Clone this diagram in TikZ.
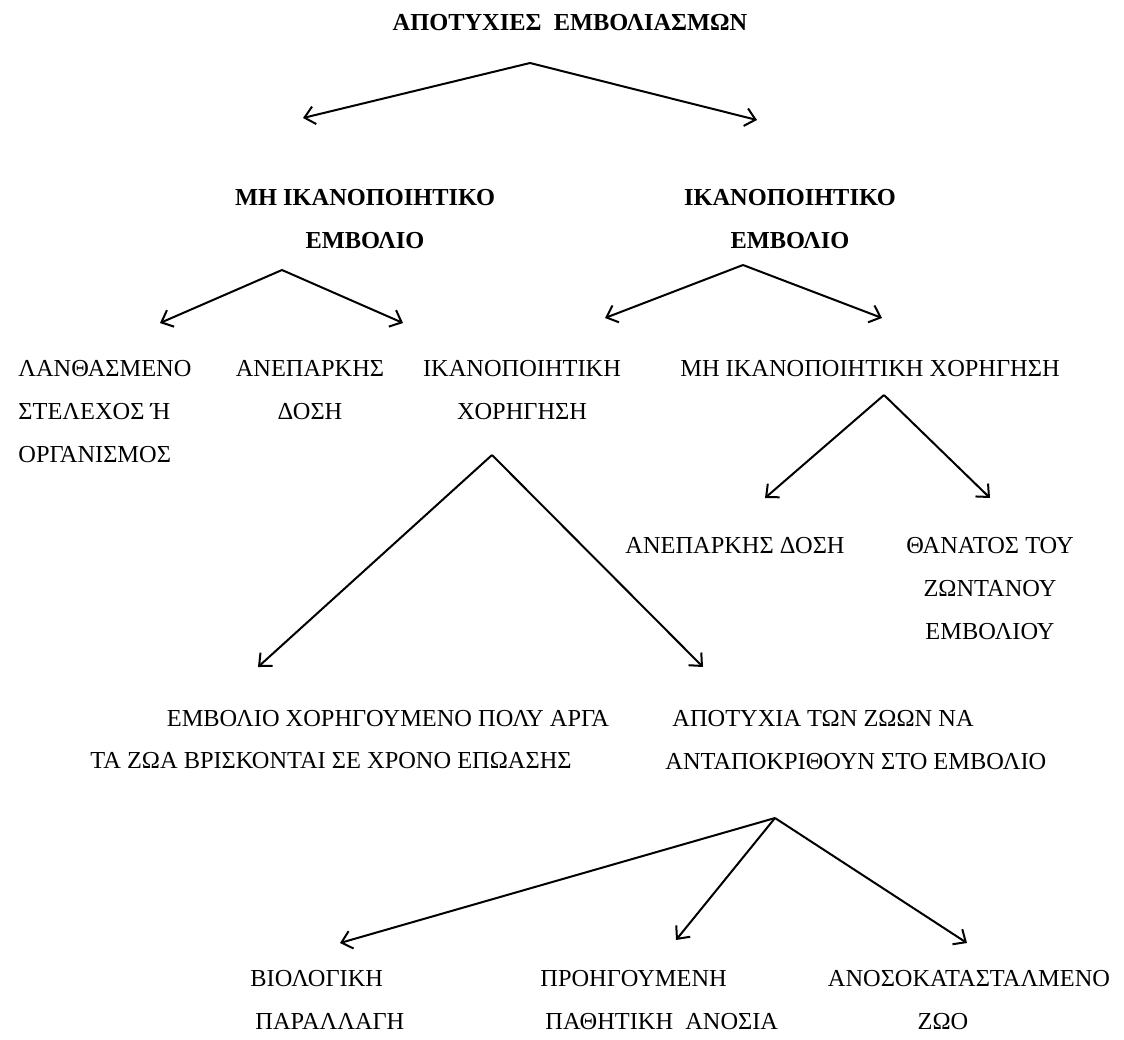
\documentclass[tikz,border=0pt]{standalone}
\usepackage{fontspec}
\setmainfont{Liberation Serif}
\usetikzlibrary{arrows.meta}
\begin{document}
\begin{tikzpicture}[x=0.5pt,y=-0.5pt,
    lbl/.style={inner sep=0pt,anchor=north,align=center,font=\fontsize{12.2}{21.5}\selectfont},
    hdr/.style={lbl,font=\fontsize{12.2}{21.5}\selectfont\bfseries},
    arr/.style={line width=1pt,-{Straight Barb[length=5pt,width=9pt]}}]
\useasboundingbox (0,0) rectangle (1124,1039);
% headings
\node[hdr] (fail) at (570,14) {ΑΠΟΤΥΧΙΕΣ\ \ ΕΜΒΟΛΙΑΣΜΩΝ};
\node[hdr] (badvac) at (365,189) {ΜΗ ΙΚΑΝΟΠΟΙΗΤΙΚΟ\\ΕΜΒΟΛΙΟ};
\node[hdr] (goodvac) at (790,189) {ΙΚΑΝΟΠΟΙΗΤΙΚΟ\\ΕΜΒΟΛΙΟ};
% causes
\node[lbl,anchor=north west,align=left] (strain) at (18,360) {ΛΑΝΘΑΣΜΕΝΟ\\ΣΤΕΛΕΧΟΣ Ή\\ΟΡΓΑΝΙΣΜΟΣ};
\node[lbl] (lowdose) at (310,360) {ΑΝΕΠΑΡΚΗΣ\\ΔΟΣΗ};
\node[lbl] (goodadm) at (522,360) {ΙΚΑΝΟΠΟΙΗΤΙΚΗ\\ΧΟΡΗΓΗΣΗ};
\node[lbl] (badadm) at (870,360) {ΜΗ ΙΚΑΝΟΠΟΙΗΤΙΚΗ ΧΟΡΗΓΗΣΗ};
\node[lbl] (lowdosetwo) at (735,537) {ΑΝΕΠΑΡΚΗΣ ΔΟΣΗ};
\node[lbl] (death) at (990,537) {ΘΑΝΑΤΟΣ ΤΟΥ\\ΖΩΝΤΑΝΟΥ\\ΕΜΒΟΛΙΟΥ};
\node[lbl] (late) at (388,710) {ΕΜΒΟΛΙΟ ΧΟΡΗΓΟΥΜΕΝΟ ΠΟΛΥ ΑΡΓΑ};
\node[lbl] (incub) at (331,752) {ΤΑ ΖΩΑ ΒΡΙΣΚΟΝΤΑΙ ΣΕ ΧΡΟΝΟ ΕΠΩΑΣΗΣ};
\node[lbl,anchor=north west,align=left] (noresp) at (665,710) {\hspace{3.5pt}ΑΠΟΤΥΧΙΑ ΤΩΝ ΖΩΩΝ ΝΑ\\ΑΝΤΑΠΟΚΡΙΘΟΥΝ ΣΤΟ ΕΜΒΟΛΙΟ};
\node[lbl,anchor=north west,align=left] (biovar) at (250,970) {ΒΙΟΛΟΓΙΚΗ\\\hspace{2.5pt}ΠΑΡΑΛΛΑΓΗ};
\node[lbl,anchor=north west,align=left] (passive) at (540,970) {ΠΡΟΗΓΟΥΜΕΝΗ\\\hspace{2.5pt}ΠΑΘΗΤΙΚΗ\ \ ΑΝΟΣΙΑ};
\node[lbl] (immuno) at (969,970) {ΑΝΟΣΟΚΑΤΑΣΤΑΛΜΕΝΟ\\\mbox{ΖΩΟ\hspace{26pt}}};
% arrow ends
\coordinate (f0) at (530,63);
\coordinate (f1) at (282,270);
\coordinate (f2) at (743,265);
\coordinate (f3) at (492,455);
\coordinate (f4) at (884,395);
\coordinate (f5) at (775,818);
\draw[arr] (f0) -- (303,118);
\draw[arr] (f0) -- (757,120);
\draw[arr] (f1) -- (160,323);
\draw[arr] (f1) -- (403,323);
\draw[arr] (f2) -- (605,318);
\draw[arr] (f2) -- (882,318);
\draw[arr] (f3) -- (258,667);
\draw[arr] (f3) -- (703,667);
\draw[arr] (f4) -- (765,498);
\draw[arr] (f4) -- (990,498);
\draw[arr] (f5) -- (340,943);
\draw[arr] (f5) -- (676,940);
\draw[arr] (f5) -- (967,943);
\end{tikzpicture}
\end{document}
